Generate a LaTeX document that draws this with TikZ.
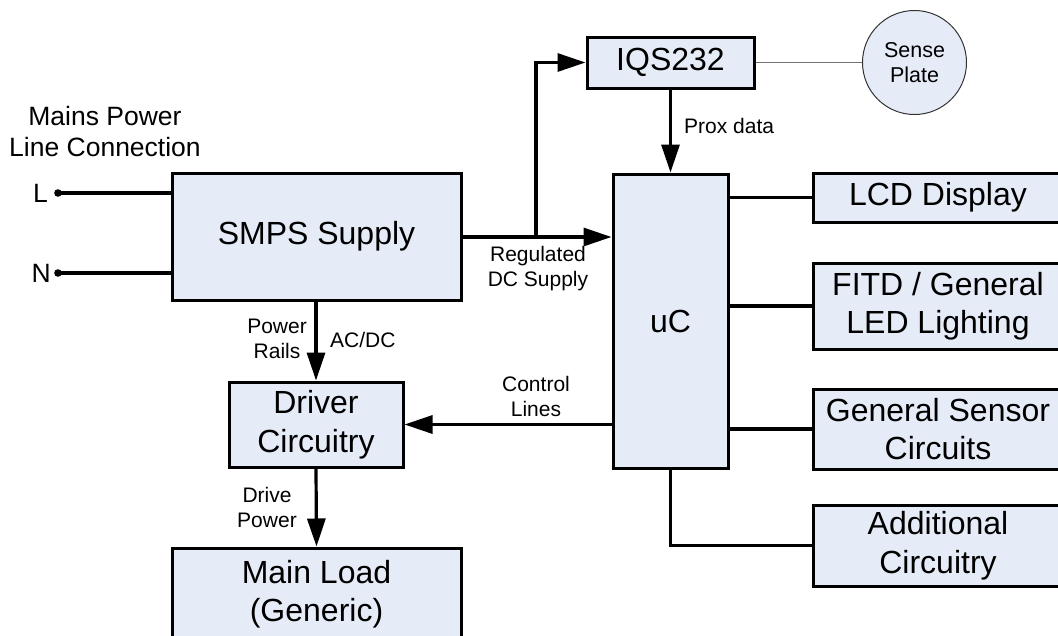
\documentclass[tikz,border=0pt]{standalone}
\usepackage{fontspec}
\setmainfont{Liberation Sans}
\usetikzlibrary{arrows.meta,calc}
\definecolor{boxfill}{RGB}{230,236,247}
\tikzset{
  blk/.style={draw=black,line width=3pt,fill=boxfill,inner sep=0pt,align=center,font=\fontsize{32}{38.5}\selectfont},
  wire/.style={line width=3.2pt,line cap=butt},
  arr/.style={wire,-{Triangle[length=28pt,width=18pt]}},
  lbl/.style={inner sep=0pt,align=center,font=\fontsize{21}{25}\selectfont},
  biglbl/.style={inner sep=0pt,align=center,font=\fontsize{26.5}{31}\selectfont},
}
\begin{document}
\begin{tikzpicture}[x=1pt,y=-1pt]
\useasboundingbox (0,0) rectangle (1058,635);
\clip (0,0) rectangle (1058,635);
% blocks
\node[blk,minimum width=289pt,minimum height=127pt] (smps) at (316.5,236.5) {SMPS Supply};
\node[blk,minimum width=167pt,minimum height=51pt] (iqs) at (670.5,62.5) {IQS232};
\node[blk,minimum width=115pt,minimum height=294pt] (uc) at (670.5,321) {uC};
\node[blk,minimum width=250pt,minimum height=49pt] (lcd) at (938,197.5) {LCD Display};
\node[blk,minimum width=250pt,minimum height=86pt] (fitd) at (938,306) {FITD / General\\LED Lighting};
\node[blk,minimum width=250pt,minimum height=80pt] (gs) at (938,429) {General Sensor\\Circuits};
\node[blk,minimum width=250pt,minimum height=81pt] (add) at (938,545.5) {Additional\\Circuitry};
\node[blk,minimum width=174pt,minimum height=85pt] (drv) at (316,424.5) {Driver\\Circuitry};
\node[blk,minimum width=289pt,minimum height=92pt] (load) at (316.5,594) {Main Load\\(Generic)};
\node[draw=black!80,line width=1pt,fill=boxfill,circle,minimum size=104pt,inner sep=0pt,align=center,font=\fontsize{21.5}{25}\selectfont] (sense) at (914.5,62.5) {Sense\\Plate};
% mains input
\coordinate (Lpt) at (58,193);
\coordinate (Npt) at (58,273);
\fill (Lpt) circle (3.8pt);
\fill (Npt) circle (3.8pt);
\node[biglbl,anchor=east] (Ltxt) at (48,193) {L};
\node[biglbl,anchor=east] (Ntxt) at (51,273) {N};
\draw[wire] (Lpt) -- (Lpt -| smps.west);
\draw[wire] (Npt) -- (Npt -| smps.west);
\node[biglbl] (mains) at (105,132) {Mains Power\\Line Connection};
% regulated DC supply
\coordinate (jn) at (536,237);
\draw[arr] (smps.east |- jn) -- (uc.west |- jn);
\draw[arr] (jn) |- (iqs.west);
\node[lbl] (reg) at (538,269) {Regulated\\DC Supply};
% IQS to uC
\draw[arr] (iqs.south) -- (uc.north);
\node[lbl,anchor=west] (prox) at (684,126) {Prox data};
\draw[line width=1pt,draw=black!55] (iqs.east) -- (sense.west);
% uC to peripherals
\draw[wire] (uc.east |- lcd.west) -- (lcd.west);
\draw[wire] (uc.east |- fitd.west) -- (fitd.west);
\draw[wire] (uc.east |- gs.west) -- (gs.west);
\draw[wire] (uc.south) |- (add.west);
% control lines
\draw[arr] (uc.west |- drv.east) -- (drv.east);
\node[lbl] (ctl) at (536,396) {Control\\Lines};
% power rails
\draw[arr] (smps.south -| drv.north) -- (drv.north);
\node[lbl,anchor=east] (rails) at (307,339) {Power\\Rails};
\node[lbl,anchor=west] (acdc) at (330,340) {AC/DC};
% drive power
\draw[arr] (drv.south) -- (load.north);
\node[lbl] (dpow) at (267,507) {Drive\\Power};
\end{tikzpicture}
\end{document}
